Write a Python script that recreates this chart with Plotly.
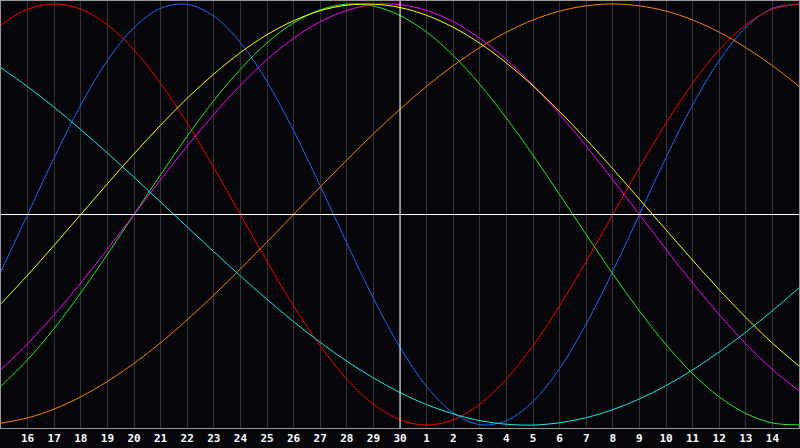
import plotly.graph_objects as go

# Day labels along the bottom axis (positions 1..29; edges 0 and 30 are unlabeled day 15)
day_labels = ["16", "17", "18", "19", "20", "21", "22", "23", "24", "25", "26", "27", "28", "29", "30",
              "1", "2", "3", "4", "5", "6", "7", "8", "9", "10", "11", "12", "13", "14"]
day_positions = list(range(31))  # sample positions (one per day, left edge to right edge)
today_position = 15

# Curve values read at each day (-1 .. 1)
blue = [-0.270, 0.0, 0.270, 0.520, 0.731, 0.888, 0.979, 0.998, 0.942, 0.817, 0.631, 0.398, 0.136,
        -0.136, -0.398, -0.631, -0.817, -0.942, -0.998, -0.979, -0.888, -0.731, -0.520, -0.270,
        0.0, 0.270, 0.520, 0.731, 0.888, 0.979, 0.998]
red = [0.901, 0.975, 1.0, 0.975, 0.901, 0.782, 0.623, 0.434, 0.223, 0.0, -0.223, -0.434, -0.623,
       -0.782, -0.901, -0.975, -1.0, -0.975, -0.901, -0.782, -0.623, -0.434, -0.223, 0.0,
       0.223, 0.434, 0.623, 0.782, 0.901, 0.975, 1.0]
green = [-0.815, -0.690, -0.541, -0.372, -0.189, 0.0, 0.189, 0.372, 0.541, 0.690, 0.815, 0.910,
         0.972, 0.999, 0.990, 0.945, 0.866, 0.756, 0.618, 0.458, 0.282, 0.095, -0.095, -0.282,
         -0.458, -0.618, -0.756, -0.866, -0.945, -0.990, -0.999]
magenta = [-0.736, -0.614, -0.476, -0.325, -0.165, 0.0, 0.165, 0.325, 0.476, 0.614, 0.736, 0.837,
           0.916, 0.969, 0.997, 0.997, 0.969, 0.916, 0.837, 0.736, 0.614, 0.476, 0.325, 0.165,
           0.0, -0.165, -0.325, -0.476, -0.614, -0.736, -0.837]
yellow = [-0.424, -0.288, -0.146, 0.0, 0.146, 0.288, 0.424, 0.552, 0.667, 0.769, 0.854, 0.920,
          0.968, 0.994, 0.999, 0.983, 0.946, 0.889, 0.813, 0.720, 0.611, 0.489, 0.357, 0.217,
          0.073, -0.073, -0.217, -0.357, -0.489, -0.611, -0.720]
orange = [-0.991, -0.966, -0.924, -0.866, -0.793, -0.707, -0.609, -0.5, -0.383, -0.259, -0.131,
          0.0, 0.131, 0.259, 0.383, 0.5, 0.609, 0.707, 0.793, 0.866, 0.924, 0.966, 0.991, 1.0,
          0.991, 0.966, 0.924, 0.866, 0.793, 0.707, 0.609]
cyan = [0.697, 0.607, 0.509, 0.403, 0.292, 0.177, 0.059, -0.059, -0.177, -0.292, -0.403, -0.509,
        -0.607, -0.697, -0.776, -0.846, -0.903, -0.947, -0.979, -0.996, -1.0, -0.989, -0.965,
        -0.927, -0.876, -0.813, -0.738, -0.653, -0.559, -0.457, -0.348]

series = [
    (blue, "#1a6cff"),
    (red, "#ff0000"),
    (green, "#22ee22"),
    (magenta, "#ff00ff"),
    (yellow, "#ffff00"),
    (orange, "#ff8000"),
    (cyan, "#11eeee"),
]

BG = "#060509"

fig = go.Figure()
for vals, color in series:
    fig.add_trace(go.Scatter(
        x=day_positions, y=vals, mode="lines",
        line=dict(color=color, width=1, shape="spline", smoothing=1.0),
        hoverinfo="skip", showlegend=False,
    ))

fig.update_layout(
    width=800, height=448,
    margin=dict(l=1, r=1, t=1, b=20),
    paper_bgcolor=BG, plot_bgcolor=BG,
    xaxis=dict(
        range=[0, 30],
        tickmode="array",
        tickvals=list(range(1, 30)),
        ticktext=day_labels,
        showgrid=True, gridcolor="#333333", gridwidth=1,
        zeroline=False,
        showline=True, linecolor="#999999", linewidth=1, mirror=True,
        ticks="",
        tickfont=dict(color="#ffffff", size=11, family="DejaVu Sans Mono", weight="bold"),
        fixedrange=True,
    ),
    yaxis=dict(
        range=[-1.014, 1.014],
        showgrid=False, zeroline=False, showticklabels=False,
        showline=True, linecolor="#999999", linewidth=1, mirror=True,
        fixedrange=True,
    ),
    shapes=[
        dict(type="line", xref="x", yref="paper", x0=today_position, x1=today_position, y0=0, y1=1,
             line=dict(color="#ffffff", width=1), layer="above"),
        dict(type="line", xref="paper", yref="y", x0=0, x1=1, y0=0, y1=0,
             line=dict(color="#ffffff", width=1), layer="above"),
    ],
)

fig.write_html(
    "out.html",
    config={"displayModeBar": False, "staticPlot": True},
    post_script="document.body.style.margin='0';document.body.style.overflow='hidden';document.body.style.background='#060509';",
)
